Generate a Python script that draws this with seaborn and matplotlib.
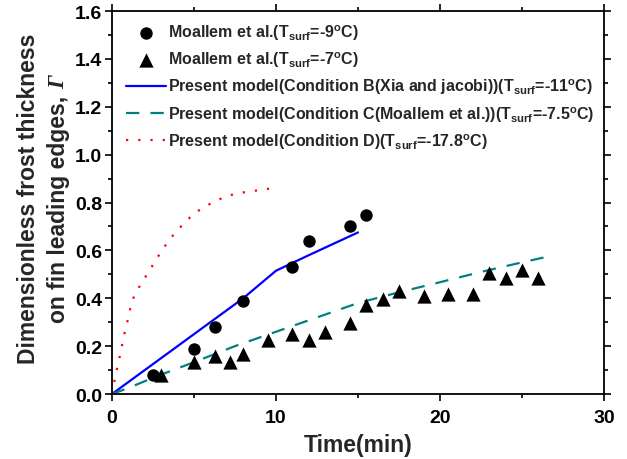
import pandas as pd
import seaborn as sns
import matplotlib.pyplot as plt
from matplotlib.ticker import MultipleLocator

# Moallem et al. experimental data
circ_t = [2.5, 5.0, 6.3, 8.0, 11.0, 12.0, 14.5, 15.5]
circ_y = [0.079, 0.188, 0.279, 0.389, 0.53, 0.64, 0.70, 0.749]

tri_t = [3.0, 5.0, 6.3, 7.2, 8.0, 9.5, 11.0, 12.0, 13.0, 14.5, 15.5, 16.5, 17.5,
         19.0, 20.5, 22.0, 23.0, 24.0, 25.0, 26.0]
tri_y = [0.079, 0.135, 0.158, 0.135, 0.169, 0.226, 0.251, 0.226, 0.257, 0.296, 0.372,
         0.397, 0.432, 0.411, 0.418, 0.416, 0.505, 0.485, 0.516, 0.485]

# model curves
b_t = [0, 5, 8, 10, 12, 15]
b_y = [0, 0.25, 0.40, 0.515, 0.58, 0.675]

c_t = [0, 1, 2.5, 5, 7.5, 10, 12.5, 15, 17.5, 20, 22.5, 25, 26.7]
c_y = [0, 0.025, 0.068, 0.133, 0.20, 0.26, 0.32, 0.38, 0.425, 0.467, 0.51, 0.55, 0.576]

d_t = [0, 0.25, 0.5, 0.75, 1.0, 1.2, 1.5, 2.0, 2.5, 3.0, 3.5, 4.0, 4.5, 5.0, 5.5, 6.0,
       7.0, 8.0, 9.0, 9.6]
d_y = [0, 0.09, 0.165, 0.25, 0.32, 0.385, 0.43, 0.485, 0.54, 0.595, 0.645, 0.685, 0.72,
       0.755, 0.775, 0.795, 0.828, 0.842, 0.852, 0.858]

sns.set_theme(style='ticks')
plt.rcParams['font.family'] = ['Liberation Sans', 'DejaVu Sans']
plt.rcParams['font.weight'] = 'bold'
plt.rcParams['mathtext.fontset'] = 'custom'
plt.rcParams['mathtext.rm'] = 'Liberation Sans:bold'
plt.rcParams['mathtext.bf'] = 'Liberation Sans:bold'
plt.rcParams['mathtext.default'] = 'rm'

W, H = 627, 460
fig = plt.figure(figsize=(6.27, 4.6), dpi=100)
ax = fig.add_axes([0.1786, 0.1413, 0.7848, 0.8326])

lbl_c = r'Moallem et al.(T$_{surf}$=-9$^{o}$C)'
lbl_t = r'Moallem et al.(T$_{surf}$=-7$^{o}$C)'
lbl_b = r'Present model(Condition B(Xia and jacobi))(T$_{surf}$=-11$^{o}$C)'
lbl_cc = r'Present model(Condition C(Moallem et al.))(T$_{surf}$=-7.5$^{o}$C)'
lbl_d = r'Present model(Condition D)(T$_{surf}$=-17.8$^{o}$C)'

sns.scatterplot(x=circ_t, y=circ_y, ax=ax, marker='o', s=80, color='black',
                edgecolor='black', linewidth=0, label=lbl_c, zorder=4)
sns.scatterplot(x=tri_t, y=tri_y, ax=ax, marker='^', s=105, color='black',
                edgecolor='black', linewidth=0, label=lbl_t, zorder=4)
sns.lineplot(x=b_t, y=b_y, ax=ax, color='#0000FF', lw=1.6, label=lbl_b)
sns.lineplot(x=c_t, y=c_y, ax=ax, color='#008080', lw=1.6, label=lbl_cc,
             dashes=False)
ax.lines[-1].set_dashes([6, 5])
sns.lineplot(x=d_t, y=d_y, ax=ax, color='#FF0000', lw=1.6, label=lbl_d)
ax.lines[-1].set_dashes([1, 4.5])

ax.set_xlim(0, 30)
ax.set_ylim(0, 1.6)
ax.xaxis.set_major_locator(MultipleLocator(10))
ax.xaxis.set_minor_locator(MultipleLocator(5))
ax.yaxis.set_major_locator(MultipleLocator(0.2))
ax.yaxis.set_minor_locator(MultipleLocator(0.1))
ax.tick_params(which='both', direction='out', labelsize=14, width=1.2, colors='black',
               top=True, right=True)
ax.tick_params(which='major', length=5, pad=2)
ax.tick_params(which='minor', length=3)
ax.tick_params(axis='x', which='major', pad=6)
for sp in ax.spines.values():
    sp.set_visible(True)
    sp.set_linewidth(1.3)
    sp.set_color('black')
ax.set_yticklabels(['%.1f' % v for v in ax.get_yticks()])

ax.set_xlabel('Time(min)', fontsize=16.5, fontweight='bold', labelpad=5)
ax.set_ylabel('')

leg = ax.legend(loc='upper left', bbox_to_anchor=(0.005, 1.0), frameon=False,
                fontsize=11.5, handlelength=2.5, handletextpad=0.15,
                labelspacing=0.48, borderaxespad=0.3)

# y label: two rotated lines, the second ending with an italic serif Gamma
yc = 199
lab_kw = dict(rotation=90, fontsize=16.5, fontweight='bold', ha='center')
fig.text(29 / W, 1 - yc / H, 'Dimensionless frost thickness', va='center', **lab_kw)
line2 = fig.text(59 / W, 0, 'on fin leading edges, ', va='bottom', **lab_kw)
gam = fig.text(59 / W, 0, 'Γ', va='bottom', rotation=90, fontsize=16.5,
               family='Liberation Serif', style='italic', ha='center')
fig.canvas.draw()
r = fig.canvas.get_renderer()
h2 = line2.get_window_extent(r).height
hg = gam.get_window_extent(r).height
y0 = (H - yc) - (h2 + hg) / 2
line2.set_y(y0 / H)
gam.set_y((y0 + h2) / H)

fig.savefig('out.png', dpi=100)
